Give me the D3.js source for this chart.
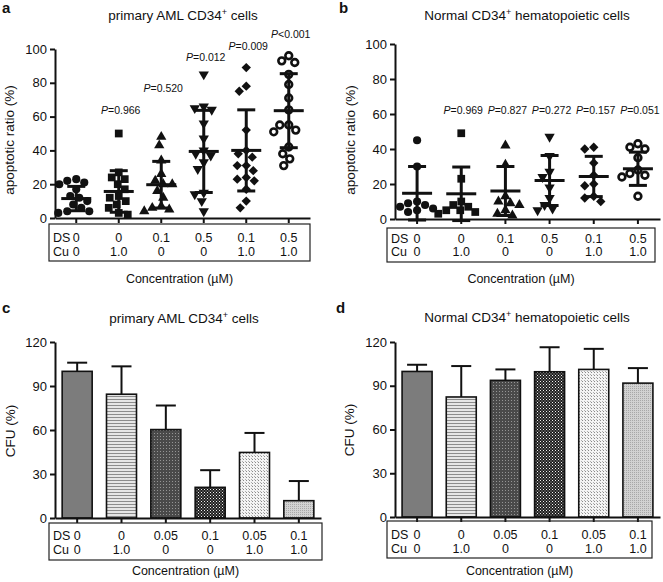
<!DOCTYPE html>
<html><head><meta charset="utf-8">
<script src="https://cdn.jsdelivr.net/npm/d3@7"></script>
<style>
body{margin:0;background:#fff}
svg{display:block}
text{font-family:"Liberation Sans",Arial,Helvetica,sans-serif;fill:#111}
</style>
</head><body>
<svg id="chart" width="663" height="582"></svg>
<script>
// ---------------- DATA ----------------
const dsApoptosis = ["0", "0", "0.1", "0.5", "0.1", "0.5"];
const dsCFU = ["0", "0", "0.05", "0.1", "0.05", "0.1"];
const cuLevels = ["0", "1.0", "0", "0", "1.0", "1.0"];

// panel a: primary AML CD34+ apoptotic ratio (%)
const amlCtrl   = [23, 22, 21, 20, 17, 13, 12, 10, 8, 6, 4, 4, 3];
const amlCu     = [50, 27, 24, 23, 20, 17, 13, 12, 10, 8, 6, 3, 2];
const amlDS01   = [48, 43, 34, 26, 22, 20, 20, 16, 12, 7, 6, 5, 4];
const amlDS05   = [85, 66, 65, 64, 56, 47, 40, 38, 37, 33, 29, 15, 14, 10, 4];
const amlDS01Cu = [89, 78, 75, 52, 40, 38, 36, 31, 31, 28, 24, 23, 22, 17, 10, 6];
const amlDS05Cu = [96, 93, 92, 85, 79, 71, 64, 55, 55, 52, 51, 42, 38, 35, 31];
const amlMean = [11.5, 15.7, 19.7, 39.4, 40.0, 63.5];
const amlSD   = [7.2, 12.3, 13.8, 24.3, 24.0, 21.9];
const amlP    = ["", "=0.966", "=0.520", "=0.012", "=0.009", "<0.001"];
const amlPLevel = [null, 61.5, 74.5, 93, 99.5, 106.5];

// panel b: normal CD34+ apoptotic ratio (%)
const norCtrl   = [45, 30, 10, 9, 8, 7, 6, 5, 4];
const norCu     = [49, 23, 10, 8, 7, 5, 5, 4, 3];
const norDS01   = [42, 31, 13, 10, 9, 8, 5, 3, 2];
const norDS05   = [47, 36, 27, 24, 18, 12, 8, 6, 5];
const norDS01Cu = [41, 40, 32, 25, 20, 19, 13, 12, 10];
const norDS05Cu = [43, 41, 40, 35, 28, 26, 25, 24, 13];
const norMean = [14.7, 14.4, 16.0, 22.0, 24.3, 28.7];
const norSD   = [15.3, 15.3, 14.0, 14.3, 11.5, 9.5];
const norP    = ["", "=0.969", "=0.827", "=0.272", "=0.157", "=0.051"];
const norPLevel = [null, 60, 60, 60, 60, 60];

// panel c/d: CFU (%)
const cfuAML     = [100, 84.4, 60.3, 20.9, 44.7, 11.8];
const cfuAMLsd   = [5.9, 19.0, 16.4, 11.7, 13.3, 13.4];
const cfuNormal  = [99.8, 82.3, 93.7, 99.6, 101.2, 91.8];
const cfuNormalsd= [4.6, 21.2, 7.5, 16.8, 14.1, 10.3];

const apopTicks = [0, 20, 40, 60, 80, 100];
const cfuTicks = [0, 30, 60, 90, 120];

// ---------------- DRAWING ----------------
const svg = d3.select("#chart");
const defs = svg.append("defs");

// bar fill patterns
function pat(id, w, h, bg, rects) {
  const p = defs.append("pattern").attr("id", id).attr("patternUnits", "userSpaceOnUse")
    .attr("width", w).attr("height", h);
  p.append("rect").attr("width", w).attr("height", h).attr("fill", bg);
  rects.forEach(r => p.append("rect").attr("x", r[0]).attr("y", r[1]).attr("width", r[2]).attr("height", r[3]).attr("fill", r[4]));
}
pat("p1", 4, 4, "#7c7c7c", []);
pat("p2", 4, 3, "#e6e6e6", [[0, 0, 4, 1, "#8c8c8c"]]);
pat("p3", 3, 3, "#4a4a4a", [[1, 1, 1, 1, "#959595"]]);
pat("p4", 3, 3, "#1e1e1e", [[0, 0, 1, 1, "#f0f0f0"], [1.5, 1.5, 1, 1, "#c8c8c8"]]);
pat("p5", 3, 3, "#f4f4f4", [[0, 0, 1, 1, "#8a8a8a"], [2, 2, 1, 1, "#b0b0b0"]]);
pat("p6", 2, 2, "#d2d2d2", [[0, 0, 1, 1, "#a8a8a8"]]);
const fills = ["url(#p1)", "url(#p2)", "url(#p3)", "url(#p4)", "url(#p5)", "url(#p6)"];

function titleText(g, x, y, parts) {
  const t = g.append("text").attr("x", x).attr("y", y).attr("text-anchor", "middle").attr("font-size", 13.5);
  t.append("tspan").text(parts[0]);
  t.append("tspan").attr("dy", -5).attr("font-size", 9).text("+");
  t.append("tspan").attr("dy", 5).text(parts[1]);
}

function panelLetter(x, y, s) {
  svg.append("text").attr("x", x).attr("y", y).attr("font-size", 15).attr("font-weight", "bold").text(s);
}

function yLabel(x, y, s) {
  svg.append("text").attr("transform", `translate(${x},${y}) rotate(-90)`).attr("text-anchor", "middle")
    .attr("font-size", 13.5).text(s);
}

function axes(g, x, y, ticks) {
  const ya = d3.axisLeft(y).tickValues(ticks).tickSize(5).tickSizeOuter(0).tickPadding(3);
  const yg = g.append("g").attr("transform", `translate(${x.range()[0]},0)`).call(ya);
  yg.selectAll("text").attr("font-size", 13).attr("font-family", "Liberation Sans, Arial, sans-serif").attr("fill", "#111");
  yg.selectAll("line,path").attr("stroke", "#111").attr("stroke-width", 2);
  const xa = d3.axisBottom(x).tickSize(5).tickSizeOuter(0).tickFormat("");
  const xg = g.append("g").attr("transform", `translate(0,${y.range()[0]})`).call(xa);
  xg.selectAll("line,path").attr("stroke", "#111").attr("stroke-width", 2);
}

function table(g, x, box, ds, cu) {
  g.append("rect").attr("x", box.x0).attr("y", box.y0).attr("width", box.x1 - box.x0).attr("height", box.y1 - box.y0)
    .attr("fill", "none").attr("stroke", "#222").attr("stroke-width", 1.2);
  g.append("text").attr("x", box.x0 + 4).attr("y", box.r1).attr("font-size", 12.5).text("DS");
  g.append("text").attr("x", box.x0 + 4).attr("y", box.r2).attr("font-size", 12.5).text("Cu");
  ds.forEach((d, i) => g.append("text").attr("x", x(i) + x.bandwidth() / 2).attr("y", box.r1)
    .attr("text-anchor", "middle").attr("font-size", 12.5).text(d));
  cu.forEach((d, i) => g.append("text").attr("x", x(i) + x.bandwidth() / 2).attr("y", box.r2)
    .attr("text-anchor", "middle").attr("font-size", 12.5).text(d));
  g.append("text").attr("x", (box.x0 + box.x1) / 2).attr("y", box.lab).attr("text-anchor", "middle")
    .attr("font-size", 12.5).text("Concentration (\u00B5M)");
}

function beeswarm(vals, y, d) {
  const placed = [];
  const sorted = vals.slice().sort((a, b) => b - a);
  sorted.forEach(v => {
    const py = y(v);
    let dx = 0;
    for (let k = 0; k < 80; k++) {
      const cand = (k % 2 === 0 ? 1 : -1) * Math.ceil(k / 2) * 1;
      const ok = placed.every(p => (cand - p.dx) ** 2 + (py - p.py) ** 2 >= d * d);
      if (ok) { dx = cand; break; }
    }
    placed.push({ v, dx, py });
  });
  return placed;
}

const shapes = [
  { sym: d3.symbolCircle, size: 52, rot: 0, open: false },
  { sym: d3.symbolSquare, size: 60, rot: 0, open: false },
  { sym: d3.symbolTriangle, size: 46, rot: 0, open: false },
  { sym: d3.symbolTriangle, size: 46, rot: 180, open: false },
  { sym: d3.symbolSquare, size: 44, rot: 45, open: false },
  { sym: d3.symbolCircle, size: 36, rot: 0, open: true }
];

function scatterPanel(cfg) {
  const g = svg.append("g");
  const x = d3.scaleBand().domain(d3.range(6)).range([cfg.x0, cfg.x1]);
  const y = d3.scaleLinear().domain([0, 100]).range([cfg.y0, cfg.yTop]);
  axes(g, x, y, apopTicks);
  cfg.groups.forEach((vals, i) => {
    const cx = x(i) + x.bandwidth() / 2;
    const sh = shapes[i];
    const pts = beeswarm(vals, y, 8.6);
    g.selectAll(null).data(pts).enter().append("path")
      .attr("d", d3.symbol().type(sh.sym).size(sh.size))
      .attr("transform", p => `translate(${cx + p.dx},${p.py}) rotate(${sh.rot})`)
      .attr("fill", sh.open ? "#fff" : "#111")
      .attr("stroke", sh.open ? "#111" : "none")
      .attr("stroke-width", sh.open ? 2.6 : 0);
    const m = cfg.mean[i], s = cfg.sd[i];
    const eb = g.append("g").attr("stroke", "#111").attr("stroke-width", 3);
    eb.append("line").attr("x1", cx).attr("x2", cx).attr("y1", y(m - s)).attr("y2", y(m + s));
    eb.append("line").attr("x1", cx - 15).attr("x2", cx + 15).attr("y1", y(m)).attr("y2", y(m));
    [m - s, m + s].forEach(v => eb.append("line").attr("x1", cx - 9).attr("x2", cx + 9).attr("y1", y(v)).attr("y2", y(v)));
    if (cfg.p[i]) {
      const t = g.append("text").attr("x", cx + 2).attr("y", y(cfg.pLevel[i])).attr("text-anchor", "middle").attr("font-size", 10.5);
      t.append("tspan").attr("font-style", "italic").text("P");
      t.append("tspan").text(cfg.p[i]);
    }
  });
  table(g, x, cfg.box, dsApoptosis, cuLevels);
}

function barPanel(cfg) {
  const g = svg.append("g");
  const x = d3.scaleBand().domain(d3.range(6)).range([cfg.x0, cfg.x1]);
  const y = d3.scaleLinear().domain([0, 120]).range([cfg.y0, cfg.yTop]);
  const bw = 30;
  cfg.vals.forEach((v, i) => {
    const cx = x(i) + x.bandwidth() / 2;
    const top = v + cfg.sd[i];
    g.append("line").attr("x1", cx).attr("x2", cx).attr("y1", y(v)).attr("y2", y(top)).attr("stroke", "#111").attr("stroke-width", 2);
    g.append("line").attr("x1", cx - 10).attr("x2", cx + 10).attr("y1", y(top)).attr("y2", y(top)).attr("stroke", "#111").attr("stroke-width", 2);
    g.append("rect").attr("x", cx - bw / 2).attr("y", y(v)).attr("width", bw).attr("height", y(0) - y(v))
      .attr("fill", fills[i]).attr("stroke", "#111").attr("stroke-width", 1.6);
  });
  axes(g, x, y, cfuTicks);
  table(g, x, cfg.box, dsCFU, cuLevels);
}

// panel a
panelLetter(2, 13, "a");
titleText(svg, 183, 20, ["primary AML CD34", " cells"]);
yLabel(14, 140, "apoptotic ratio  (%)");
scatterPanel({
  x0: 55, x1: 310, y0: 218, yTop: 49,
  groups: [amlCtrl, amlCu, amlDS01, amlDS05, amlDS01Cu, amlDS05Cu],
  mean: amlMean, sd: amlSD, p: amlP, pLevel: amlPLevel,
  box: { x0: 49, x1: 310, y0: 224, y1: 261, r1: 242, r2: 256, lab: 283 }
});

// panel b
panelLetter(339, 13, "b");
titleText(svg, 527, 20, ["Normal CD34", " hematopoietic cells"]);
yLabel(355, 140, "apoptotic ratio  (%)");
scatterPanel({
  x0: 395, x1: 660, y0: 219, yTop: 44,
  groups: [norCtrl, norCu, norDS01, norDS05, norDS01Cu, norDS05Cu],
  mean: norMean, sd: norSD, p: norP, pLevel: norPLevel,
  box: { x0: 387, x1: 655, y0: 228, y1: 262, r1: 243, r2: 256, lab: 283 }
});

// panel c
panelLetter(2, 313, "c");
titleText(svg, 184, 323, ["primary AML CD34", " cells"]);
yLabel(15, 431, "CFU (%)");
barPanel({
  x0: 55, x1: 321, y0: 518, yTop: 342,
  vals: cfuAML, sd: cfuAMLsd,
  box: { x0: 49, x1: 322, y0: 523, y1: 560, r1: 540, r2: 554, lab: 575 }
});

// panel d
panelLetter(336, 313, "d");
titleText(svg, 527, 322, ["Normal CD34", " hematopoietic cells"]);
yLabel(354, 430, "CFU (%)");
barPanel({
  x0: 395, x1: 660, y0: 517, yTop: 342,
  vals: cfuNormal, sd: cfuNormalsd,
  box: { x0: 387, x1: 652, y0: 521, y1: 558, r1: 539, r2: 553, lab: 575 }
});
</script>
</body></html>
